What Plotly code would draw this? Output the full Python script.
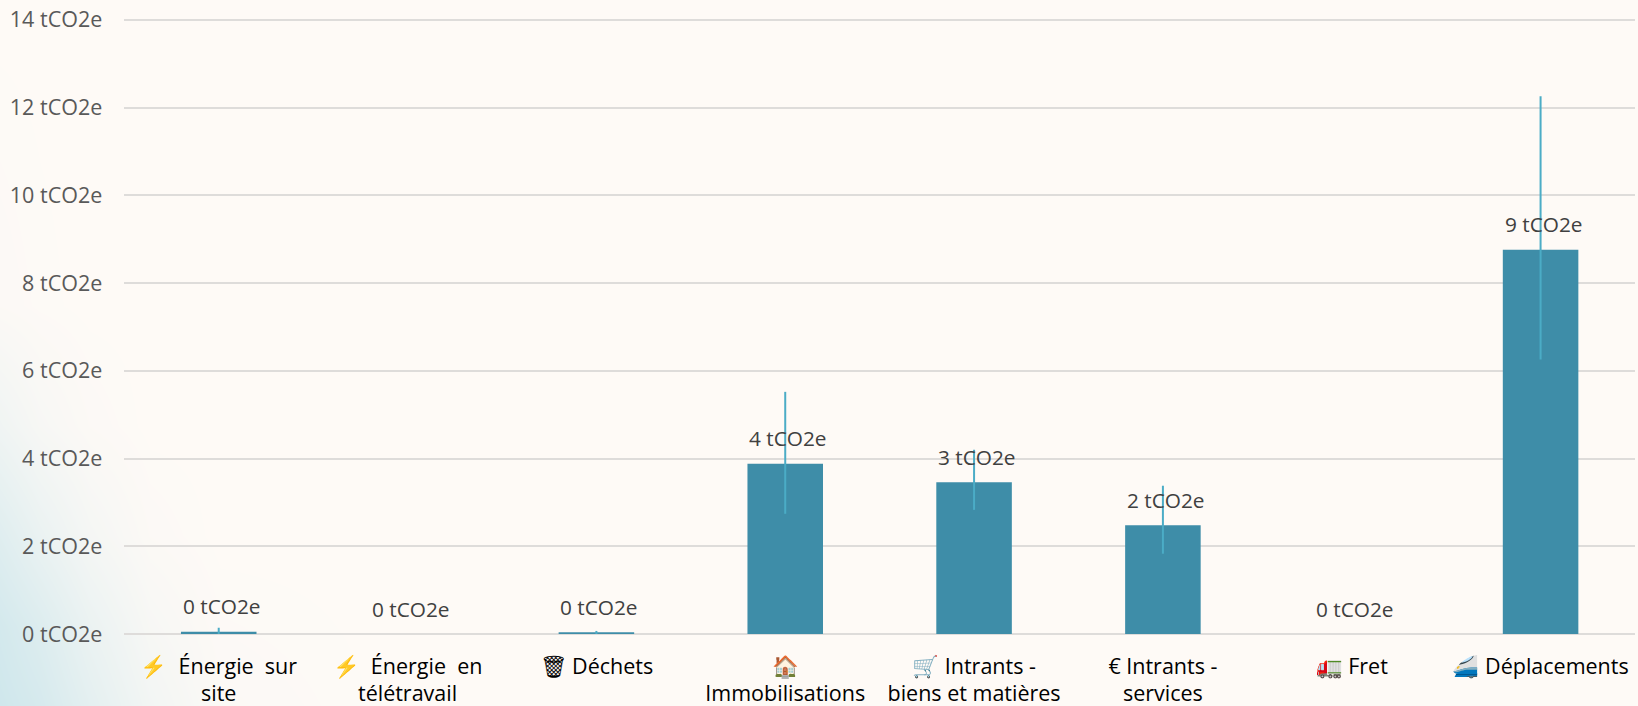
import plotly.graph_objects as go

categories = ["⚡  Énergie  sur<br>site", "⚡  Énergie  en<br>télétravail", "🗑 Déchets", "🏠<br>Immobilisations",
              "🛒 Intrants -<br>biens et matières", "€ Intrants -<br>services", "🚛 Fret", "🚄 Déplacements"]
values = [0.05, 0.0, 0.04, 3.88, 3.46, 2.48, 0.0, 8.76]
err_up = [0.09, 0.0, 0.03, 1.64, 0.74, 0.90, 0.0, 3.50]
err_down = [0.05, 0.0, 0.04, 1.14, 0.63, 0.65, 0.0, 2.50]
labels = ["0 tCO2e", "0 tCO2e", "0 tCO2e", "4 tCO2e", "3 tCO2e", "2 tCO2e", "0 tCO2e", "9 tCO2e"]
y_ticks = [0, 2, 4, 6, 8, 10, 12, 14]
y_ticktext = [f"{v} tCO2e" for v in y_ticks]

# Soft background wash: rows run from the bottom of the page upwards
bg_z = [
    [1.00, 0.85, 0.55, 0.25, 0.06, 0, 0, 0],
    [0.90, 0.70, 0.40, 0.15, 0.03, 0, 0, 0],
    [0.65, 0.42, 0.20, 0.05, 0, 0, 0, 0],
    [0.30, 0.15, 0.05, 0, 0, 0, 0, 0],
    [0.05, 0.02, 0, 0, 0, 0, 0, 0],
    [0, 0, 0, 0, 0, 0, 0, 0],
]
bg_x = [0, 40, 90, 150, 220, 400, 800, 1638]
bg_y = [0, 80, 170, 280, 400, 706]

PAPER = "#FEFAF6"
fig = go.Figure()
fig.add_trace(go.Heatmap(x=bg_x, y=bg_y, z=bg_z, zsmooth="best", showscale=False, hoverinfo="skip",
                         colorscale=[[0, PAPER], [1, "#CFE7EC"]], zmin=0, zmax=1, xaxis="x", yaxis="y"))
fig.add_trace(go.Bar(x=categories, y=values, width=0.4, marker=dict(color="#3E8DA8", line_width=0),
                     error_y=dict(type="data", symmetric=False, array=err_up, arrayminus=err_down,
                                  color="#4BACC6", thickness=2, width=0),
                     xaxis="x2", yaxis="y2"))

for c, v, t in zip(categories, values, labels):
    fig.add_annotation(x=c, y=v, xref="x2", yref="y2", text=t, showarrow=False, xshift=3, yshift=25.5, yanchor="middle",
                       font=dict(family="Open Sans", size=20.8, color="#404040"))

fig.update_layout(
    width=1638, height=706, margin=dict(l=0, r=0, t=0, b=0), paper_bgcolor=PAPER, plot_bgcolor="rgba(0,0,0,0)",
    showlegend=False,
    xaxis=dict(domain=[0, 1], range=[0, 1638], visible=False, fixedrange=True),
    yaxis=dict(domain=[0, 1], range=[0, 706], visible=False, fixedrange=True),
    xaxis2=dict(domain=[124.3/1638, 1635/1638], anchor="y2", type="category", showgrid=False, showline=False, ticks="",
                tickangle=0, ticklabelstandoff=17, tickfont=dict(family="Open Sans", size=21.5, color="#000000"), automargin=False),
    yaxis2=dict(domain=[72/706, 687.2/706], anchor="x2", range=[0, 14.024], tickvals=y_ticks, ticktext=y_ticktext,
                showline=False, gridcolor="#DEDCDA", gridwidth=2, zeroline=True, zerolinecolor="#DEDCDA", zerolinewidth=2,
                ticks="", ticklabelstandoff=21, tickfont=dict(family="Open Sans", size=21.5, color="#595959"), automargin=False),
)
fig.write_html("out.html", config=dict(displayModeBar=False), post_script="document.body.style.margin='0';")
